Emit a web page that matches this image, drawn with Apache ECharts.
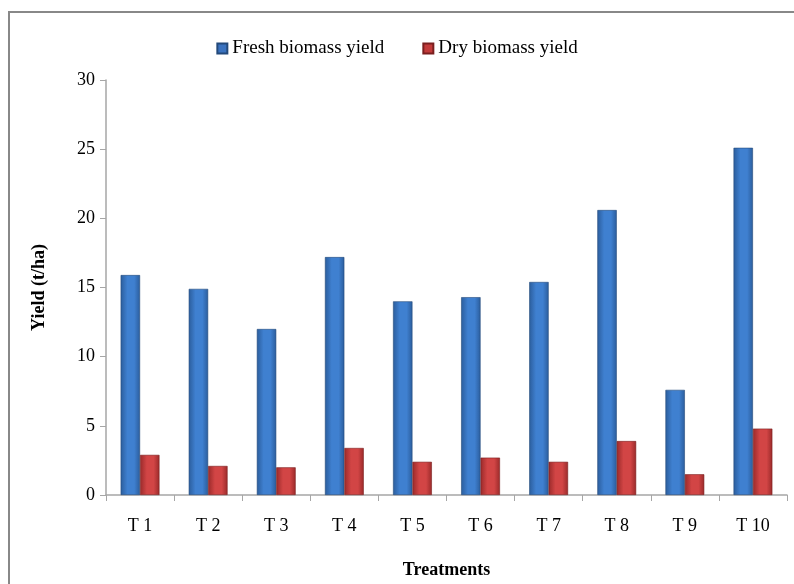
<!DOCTYPE html>
<html><head><meta charset="utf-8">
<script src="https://cdn.jsdelivr.net/npm/echarts@6/dist/echarts.min.js"></script>
<style>html,body{margin:0;padding:0;background:#fff}#c{width:794px;height:584px}</style>
</head><body><div id="c"></div>
<script>
const categories = ['T 1','T 2','T 3','T 4','T 5','T 6','T 7','T 8','T 9','T 10'];
const freshYield = [15.9, 14.9, 12.0, 17.2, 14.0, 14.3, 15.4, 20.6, 7.6, 25.1];
const dryYield = [2.9, 2.1, 2.0, 3.4, 2.4, 2.7, 2.4, 3.9, 1.5, 4.8];
const yTicks = [0, 5, 10, 15, 20, 25, 30];

const font = 'Liberation Serif, Times New Roman, serif';
function grad(dark, mid) {
  return new echarts.graphic.LinearGradient(0, 0, 1, 0, [
    {offset: 0, color: dark}, {offset: 0.35, color: mid}, {offset: 0.7, color: mid}, {offset: 1, color: dark}
  ]);
}
const chart = echarts.init(document.getElementById('c'));
chart.setOption({
  animation: false,
  backgroundColor: '#fff',
  graphic: [{type: 'rect', shape: {x: 9, y: 12, width: 800, height: 600}, style: {fill: 'none', stroke: '#888', lineWidth: 2}, silent: true}],
  legend: {
    top: 34, left: 'center', itemGap: 38, itemWidth: 10, itemHeight: 10, icon: 'rect',
    textStyle: {fontFamily: font, fontSize: 19, color: '#000'},
    data: [{name: 'Fresh biomass yield', itemStyle: {color: '#3a72bf'}}, {name: 'Dry biomass yield', itemStyle: {color: '#c23a3a'}}]
  },
  grid: {left: 106, right: 7, top: 80, bottom: 80, containLabel: false},
  xAxis: {
    type: 'category', data: categories,
    axisLine: {lineStyle: {color: '#a6a6a6', width: 1.5}},
    axisTick: {show: true, length: 6, lineStyle: {color: '#a6a6a6'}},
    axisLabel: {fontFamily: font, fontSize: 18, color: '#000', margin: 22},
    name: 'Treatments', nameLocation: 'middle', nameGap: 66,
    nameTextStyle: {fontFamily: font, fontSize: 18, fontWeight: 'bold', color: '#000'}
  },
  yAxis: {
    type: 'value', min: yTicks[0], max: yTicks[yTicks.length - 1], interval: 5,
    splitLine: {show: false},
    axisLine: {show: true, lineStyle: {color: '#a6a6a6', width: 1.5}},
    axisTick: {show: true, length: 6, lineStyle: {color: '#a6a6a6'}},
    axisLabel: {fontFamily: font, fontSize: 18, color: '#000', margin: 11},
    name: 'Yield (t/ha)', nameLocation: 'middle', nameGap: 58, nameRotate: 90,
    nameTextStyle: {fontFamily: font, fontSize: 18, fontWeight: 'bold', color: '#000'}
  },
  series: [
    {name: 'Fresh biomass yield', type: 'bar', data: freshYield, barGap: '0%', barCategoryGap: '43%',
     itemStyle: {color: grad('#2b5d9c', '#3f80d0'), borderColor: '#23497a', borderWidth: 0.6}},
    {name: 'Dry biomass yield', type: 'bar', data: dryYield,
     itemStyle: {color: grad('#9a2a2a', '#d24545'), borderColor: '#7a1f1f', borderWidth: 0.6}}
  ]
});
</script></body></html>
